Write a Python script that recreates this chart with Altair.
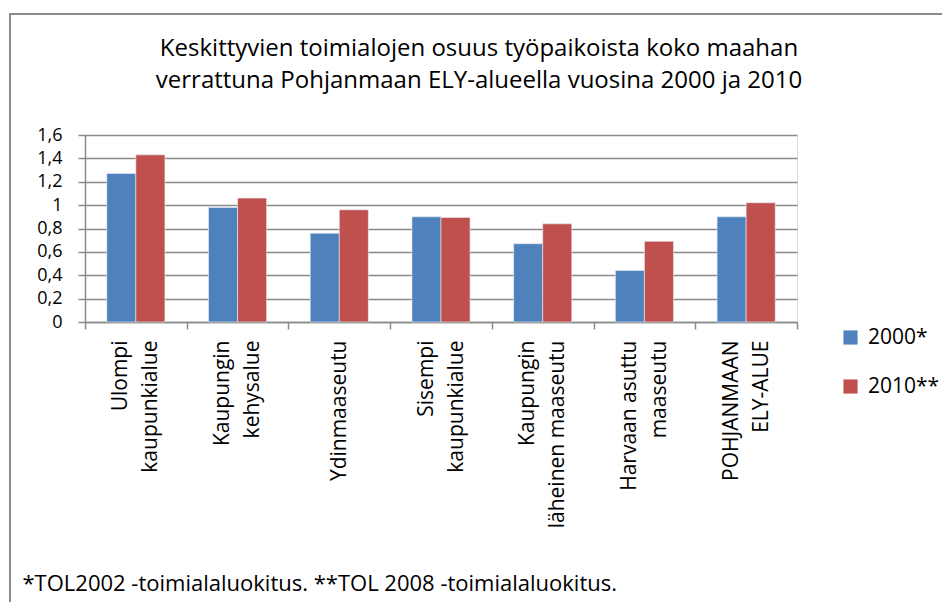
import altair as alt
import pandas as pd

categories = [
    "Ulompi\nkaupunkialue",
    "Kaupungin\nkehysalue",
    "Ydinmaaseutu",
    "Sisempi\nkaupunkialue",
    "Kaupungin\nläheinen maaseutu",
    "Harvaan asuttu\nmaaseutu",
    "POHJANMAAN\nELY-ALUE",
]
series = ["2000*", "2010**"]
values_2000 = [1.27, 0.98, 0.76, 0.90, 0.67, 0.44, 0.90]
values_2010 = [1.43, 1.06, 0.96, 0.895, 0.84, 0.69, 1.02]
y_ticks = [0, 0.2, 0.4, 0.6, 0.8, 1, 1.2, 1.4, 1.6]
colors = ["#4F81BD", "#C0504D"]

title_lines = [
    "Keskittyvien toimialojen osuus työpaikoista koko maahan",
    "verrattuna Pohjanmaan ELY-alueella vuosina 2000 ja 2010",
]
footnote = "*TOL2002 -toimialaluokitus. **TOL 2008 -toimialaluokitus."

rows = []
for c, a, b in zip(categories, values_2000, values_2010):
    rows.append({"alue": c, "vuosi": series[0], "arvo": a})
    rows.append({"alue": c, "vuosi": series[1], "arvo": b})
df = pd.DataFrame(rows)

FONT = "Open Sans"
GRID = "#8a8a8a"
FS = 21

bars = alt.Chart(df).mark_bar(stroke="#e8eef6", strokeWidth=0.6).encode(
    x=alt.X(
        "alue:N",
        sort=categories,
        scale=alt.Scale(paddingInner=0, paddingOuter=0),
        axis=alt.Axis(
            title=footnote,
            titleFont=FONT,
            titleFontSize=22,
            titleFontWeight="normal",
            titleColor="#000000",
            titleX=-63,
            titleY=268,
            titleAlign="left",
            titleBaseline="alphabetic",
            titleAngle=0,
            labelExpr="datum.value ? split(datum.value, '\\n') : ''",
            labelAngle=270,
            labelAlign="right",
            labelBaseline="middle",
            labelFont=FONT,
            labelFontSize=FS,
            labelLineHeight=30,
            labelColor="#000000",
            labelPadding=11,
            labelLimit=400,
            labelOffset=alt.condition(
                "datum.value && indexof(datum.value, '\\n') >= 0",
                alt.value(-15),
                alt.value(0),
            ),
            tickBand="extent",
            tickSize=7,
            tickColor=GRID,
            tickWidth=1.5,
            domainColor=GRID,
            domainWidth=1.5,
            grid=False,
        ),
    ),
    xOffset=alt.XOffset(
        "vuosi:N",
        sort=series,
        scale=alt.Scale(paddingInner=0, paddingOuter=0.75),
    ),
    y=alt.Y(
        "arvo:Q",
        scale=alt.Scale(domain=[0, 1.6], nice=False),
        axis=alt.Axis(
            title=None,
            values=y_ticks,
            labelExpr="replace(format(datum.value, '.1~f'), '.', ',')",
            labelFont=FONT,
            labelFontSize=18,
            labelColor="#000000",
            labelPadding=16,
            tickSize=7,
            tickColor=GRID,
            tickWidth=1.5,
            domainColor=GRID,
            domainWidth=1.5,
            grid=True,
            gridColor=GRID,
            gridWidth=1.5,
        ),
    ),
    color=alt.Color(
        "vuosi:N",
        sort=series,
        scale=alt.Scale(domain=series, range=colors),
        legend=alt.Legend(
            title=None,
            orient="none",
            legendX=755,
            legendY=192,
            symbolType="square",
            symbolSize=200,
            symbolStrokeWidth=0,
            labelFont=FONT,
            labelFontSize=FS,
            labelColor="#000000",
            labelOffset=7,
            rowPadding=27,
            padding=0,
        ),
    ),
)

border = alt.Chart(alt.Data(values=[{}])).mark_rect(
    fillOpacity=0, stroke=GRID, strokeWidth=2
).encode(
    x=alt.value(-75), x2=alt.value(900), y=alt.value(-121), y2=alt.value(600)
)

chart = alt.layer(border, bars).properties(
    width=712,
    height=187,
    title=alt.TitleParams(
        text=title_lines,
        font=FONT,
        fontSize=24,
        fontWeight="normal",
        color="#000000",
        lineHeight=32,
        anchor="middle",
        dx=38,
        offset=-80,
    ),
    autosize=alt.AutoSizeParams(type="none"),
    padding={"left": 77, "top": 127, "right": 145, "bottom": 280},
).configure_view(stroke=None).configure(background="#ffffff")

chart.save("out.html", embed_options={"renderer": "svg", "actions": False})
